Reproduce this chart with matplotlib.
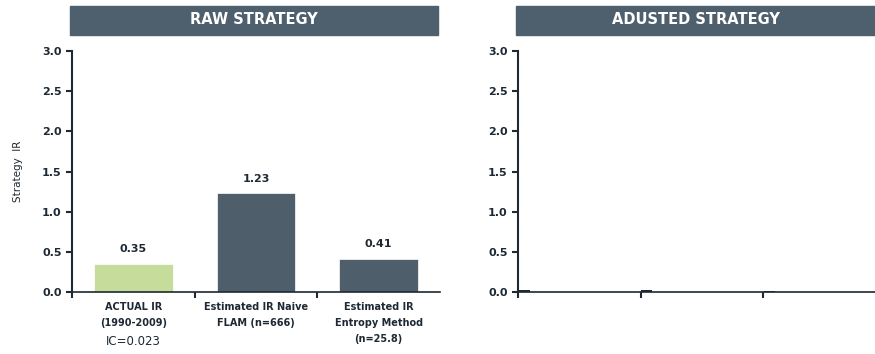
import matplotlib.pyplot as plt
from matplotlib.patches import Rectangle

# data
categories = ['ACTUAL IR\n(1990-2009)', 'Estimated IR Naive\nFLAM (n=666)', 'Estimated IR\nEntropy Method\n(n=25.8)']
raw_ir = [0.35, 1.23, 0.41]
adj_ir = [0.02, 0.02, 0.01]
bar_colors = ['#c5dc9b', '#4e5e6b', '#4e5e6b']
yticks = [0.0, 0.5, 1.0, 1.5, 2.0, 2.5, 3.0]

header_color = '#4e5f6d'
ink = '#1e2933'

fig = plt.figure(figsize=(8.75, 3.54), dpi=100)

ax1 = fig.add_axes([72 / 875, 62 / 354, 368 / 875, 241 / 354])
ax2 = fig.add_axes([518 / 875, 62 / 354, 357 / 875, 241 / 354])

def style_axis(ax, n):
    ax.set_ylim(0, 3.0)
    ax.set_xlim(0, n)
    ax.set_yticks(yticks)
    ax.set_yticklabels([f'{v:.1f}' for v in yticks], fontsize=8, fontweight='bold', color=ink)
    ax.set_xticks(range(n))
    ax.set_xticklabels([])
    ax.tick_params(axis='both', direction='out', length=4, width=1.5, color=ink)
    ax.spines['top'].set_visible(False)
    ax.spines['right'].set_visible(False)
    ax.spines['left'].set_color(ink)
    ax.spines['bottom'].set_color(ink)
    ax.spines['left'].set_linewidth(1.5)
    ax.spines['bottom'].set_linewidth(1.2)

pos = [i + 0.5 for i in range(len(categories))]

# raw strategy
style_axis(ax1, len(categories))
bars = ax1.bar(pos, raw_ir, width=0.64, color=bar_colors, edgecolor='white', linewidth=0.5)
for b, v in zip(bars, raw_ir):
    ax1.text(b.get_x() + b.get_width() / 2, v + 0.12, f'{v:.2f}', ha='center', va='bottom',
             fontsize=8, fontweight='bold', color=ink)
for p, lab in zip(pos, categories):
    ax1.text(p, -0.12, lab, ha='center', va='top', fontsize=7, fontweight='bold',
             color=ink, linespacing=1.75)
ax1.text(pos[0], -0.54, 'IC=0.023', ha='center', va='top', fontsize=8.5, color=ink)
ax1.set_ylabel('Strategy  IR', fontsize=7.5, color=ink, labelpad=14)

# adjusted strategy
style_axis(ax2, len(categories))
ax2.set_xlim(0, 357 / 122.7)
ax2.bar([i + 0.05 for i in range(3)], adj_ir, width=0.09, color=ink)

# header banners
for x0, x1, title in [(70, 438, 'RAW STRATEGY'), (516, 875, 'ADUSTED STRATEGY')]:
    fig.patches.append(Rectangle((x0 / 875, 319 / 354), (x1 - x0) / 875, 29 / 354,
                                 transform=fig.transFigure, color=header_color, zorder=0))
    fig.text((x0 + x1) / 2 / 875, 334 / 354, title, ha='center', va='center',
             fontsize=10.5, fontweight='bold', color='white')

fig.savefig('out.png', dpi=100)
